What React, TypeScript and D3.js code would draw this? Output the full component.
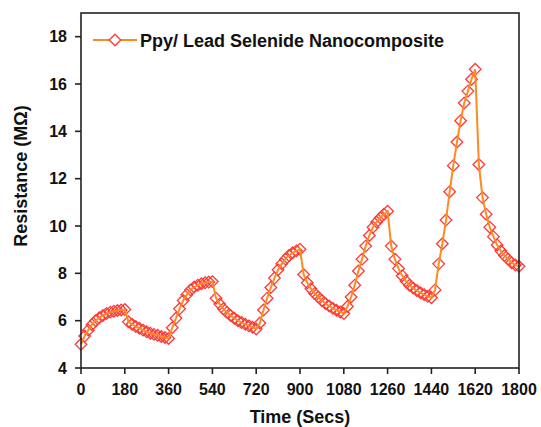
import React from "react";
import * as d3 from "d3";

const times = [
  0, 15, 30, 45, 60, 75, 90, 105, 120, 135, 150, 165, 180,
  195, 210, 225, 240, 255, 270, 285, 300, 315, 330, 345, 360,
  375, 390, 405, 420, 435, 450, 465, 480, 495, 510, 525, 540,
  555, 570, 585, 600, 615, 630, 645, 660, 675, 690, 705, 720,
  735, 750, 765, 780, 795, 810, 825, 840, 855, 870, 885, 900,
  915, 930, 945, 960, 975, 990, 1005, 1020, 1035, 1050, 1065, 1080,
  1095, 1110, 1125, 1140, 1155, 1170, 1185, 1200, 1215, 1230, 1245, 1260,
  1275, 1290, 1305, 1320, 1335, 1350, 1365, 1380, 1395, 1410, 1425, 1440,
  1455, 1470, 1485, 1500, 1515, 1530, 1545, 1560, 1575, 1590, 1605, 1620,
  1635, 1650, 1665, 1680, 1695, 1710, 1725, 1740, 1755, 1770, 1785, 1800,
];

const resistance = [
  5.0, 5.35, 5.6, 5.83, 6.0, 6.12, 6.22, 6.3, 6.36, 6.4, 6.43, 6.45, 6.47,
  5.95, 5.85, 5.75, 5.68, 5.6, 5.53, 5.47, 5.42, 5.38, 5.33, 5.29, 5.25,
  5.7, 6.1, 6.5, 6.85, 7.1, 7.3, 7.42, 7.5, 7.56, 7.6, 7.63, 7.65,
  6.95, 6.7, 6.5, 6.35, 6.22, 6.1, 6.0, 5.92, 5.85, 5.78, 5.72, 5.65,
  5.9, 6.45, 6.95, 7.4, 7.8, 8.15, 8.4, 8.6, 8.75, 8.87, 8.95, 9.02,
  7.95, 7.6, 7.35, 7.15, 7.0, 6.85, 6.72, 6.62, 6.52, 6.44, 6.37, 6.3,
  6.6, 7.0, 7.5, 8.1, 8.6, 9.15, 9.6, 9.95, 10.17, 10.35, 10.5, 10.62,
  9.15, 8.6, 8.2, 7.9, 7.68, 7.5, 7.38, 7.27, 7.18, 7.1, 7.03, 6.97,
  7.3, 8.4, 9.25, 10.25, 11.45, 12.55, 13.55, 14.45, 15.2, 15.7, 16.2, 16.62,
  12.6, 11.2, 10.5, 9.95, 9.55, 9.2, 8.95, 8.75, 8.6, 8.45, 8.35, 8.3,
];

const xTicks = [0, 180, 360, 540, 720, 900, 1080, 1260, 1440, 1620, 1800];
const yTicks = [4, 6, 8, 10, 12, 14, 16, 18];
const seriesName = "Ppy/ Lead Selenide Nanocomposite";
const xTitle = "Time (Secs)";
const yTitle = "Resistance (M\u03A9)";

const W = 541;
const H = 427;
const left = 81;
const right = 519;
const top = 13;
const bottom = 368;

const LINE = "#FF8A1E";
const MARK = "#FF3838";
const FONT = "'Liberation Sans', Arial, sans-serif";

function diamond(cx: number, cy: number, r: number) {
  return `M${cx},${cy - r}L${cx + r},${cy}L${cx},${cy + r}L${cx - r},${cy}Z`;
}

export default function App() {
  const x = d3.scaleLinear().domain([0, 1800]).range([left, right]);
  const y = d3.scaleLinear().domain([4, 19]).range([bottom, top]);
  const data = times.map((t, i) => [t, resistance[i]] as [number, number]);
  const line = d3
    .line<[number, number]>()
    .x((d) => x(d[0]))
    .y((d) => y(d[1]));

  const r = 5.8;
  return (
    <svg
      width={W}
      height={H}
      style={{ position: "absolute", left: 0, top: 0, background: "#fff" }}
    >
      <rect x={0} y={0} width={W} height={H} fill="#fff" />
      <g>
        {data.map((d, i) => (
          <path
            key={i}
            d={diamond(x(d[0]), y(d[1]), r)}
            fill="none"
            stroke={MARK}
            strokeWidth={1.3}
          />
        ))}
      </g>
      <path d={line(data) || ""} fill="none" stroke={LINE} strokeWidth={2} />

      <rect
        x={left}
        y={top}
        width={right - left}
        height={bottom - top}
        fill="none"
        stroke="#222"
        strokeWidth={1.6}
      />
      {yTicks.map((v) => (
        <g key={"y" + v}>
          <line
            x1={left - 6}
            x2={left}
            y1={y(v)}
            y2={y(v)}
            stroke="#222"
            strokeWidth={1.6}
          />
          <text
            x={left - 14}
            y={y(v) + 5.7}
            textAnchor="end"
            fontFamily={FONT}
            fontWeight="bold"
            fontSize={16}
            fill="#111"
          >
            {v}
          </text>
        </g>
      ))}
      {xTicks.map((v) => (
        <g key={"x" + v}>
          <line
            x1={x(v)}
            x2={x(v)}
            y1={bottom}
            y2={bottom + 6}
            stroke="#222"
            strokeWidth={1.6}
          />
          <text
            x={x(v)}
            y={bottom + 27}
            textAnchor="middle"
            fontFamily={FONT}
            fontWeight="bold"
            fontSize={16}
            fill="#111"
          >
            {v}
          </text>
        </g>
      ))}
      <text
        x={(left + right) / 2}
        y={423}
        textAnchor="middle"
        fontFamily={FONT}
        fontWeight="bold"
        fontSize={18}
        fill="#111"
      >
        {xTitle}
      </text>
      <text
        transform={`translate(27,176) rotate(-90)`}
        textAnchor="middle"
        fontFamily={FONT}
        fontWeight="bold"
        fontSize={18}
        fill="#111"
      >
        {yTitle}
      </text>

      <line x1={93} x2={137} y1={40} y2={40} stroke={LINE} strokeWidth={2} />
      <path d={diamond(115, 40, r)} fill="#fff" stroke={MARK} strokeWidth={1.3} />
      <text
        x={140}
        y={47}
        fontFamily={FONT}
        fontWeight="bold"
        fontSize={18}
        fill="#111"
      >
        {seriesName}
      </text>
    </svg>
  );
}
